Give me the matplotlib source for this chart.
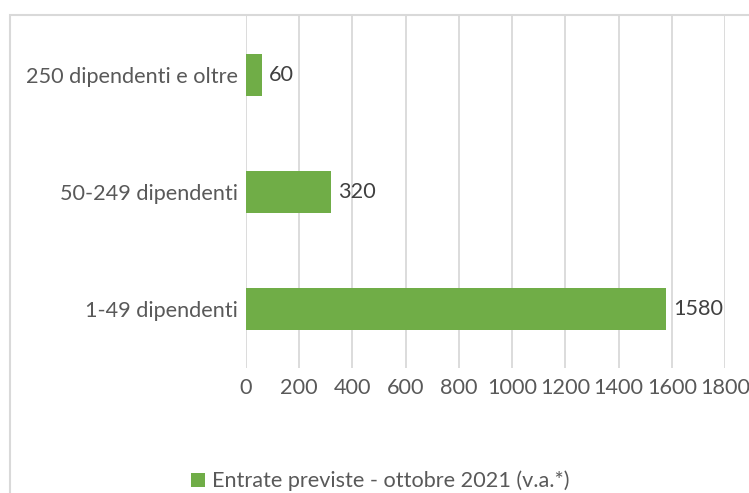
import matplotlib
matplotlib.use("Agg")
import matplotlib.pyplot as plt
from matplotlib.patches import Rectangle

categories = ["1-49 dipendenti", "50-249 dipendenti", "250 dipendenti e oltre"]
values = [1580, 320, 60]
series_name = "Entrate previste - ottobre 2021 (v.a.*)"
xticks = [0, 200, 400, 600, 800, 1000, 1200, 1400, 1600, 1800]

W, H = 749, 493
plt.rcParams['font.family'] = ['Lato', 'DejaVu Sans']
fig = plt.figure(figsize=(W/100, H/100), dpi=100)
fig.patch.set_facecolor('white')

# chart border (right and bottom edges fall outside the picture)
fig.patches.append(Rectangle((9.5/W, -0.2), 1.2, 1 - 15/H + 0.2, transform=fig.transFigure,
                             fill=False, edgecolor='#D9D9D9', linewidth=1.5))

ax = fig.add_axes([246/W, 1 - 368/H, (725-246)/W, (368-16)/H])
green = '#70AD47'
fs = 15.6
ypos = list(range(len(categories)))
bars = ax.barh(ypos, values, height=0.36, color=green, zorder=3, label=series_name)
ax.set_xlim(0, 1800)
ax.set_ylim(-0.5, len(categories) - 0.5)
ax.set_xticks(xticks)
ax.set_xticklabels([str(t) for t in xticks], fontsize=fs, color='#595959')
ax.set_yticks(ypos)
ax.set_yticklabels(categories, fontsize=fs, color='#595959')
ax.tick_params(axis='both', length=0)
ax.tick_params(axis='x', pad=7)
ax.tick_params(axis='y', pad=6)
for s in ax.spines.values():
    s.set_visible(False)
ax.grid(axis='x', color='#D9D9D9', linewidth=1.3, zorder=0)
ax.set_axisbelow(True)
for b, v in zip(bars, values):
    ax.annotate(str(v), (v, b.get_y() + b.get_height()/2), xytext=(5, 0),
                textcoords='offset points', va='center', ha='left',
                fontsize=fs, color='#404040')

fig.legend(handles=[bars], labels=[series_name], loc='center left',
           bbox_to_anchor=(191/W, 1 - 481/H), borderpad=0, borderaxespad=0,
           frameon=False, fontsize=fs, labelcolor='#595959', handlelength=0.63, handleheight=0.63,
           handletextpad=0.33)

fig.savefig("out.png", dpi=100)
